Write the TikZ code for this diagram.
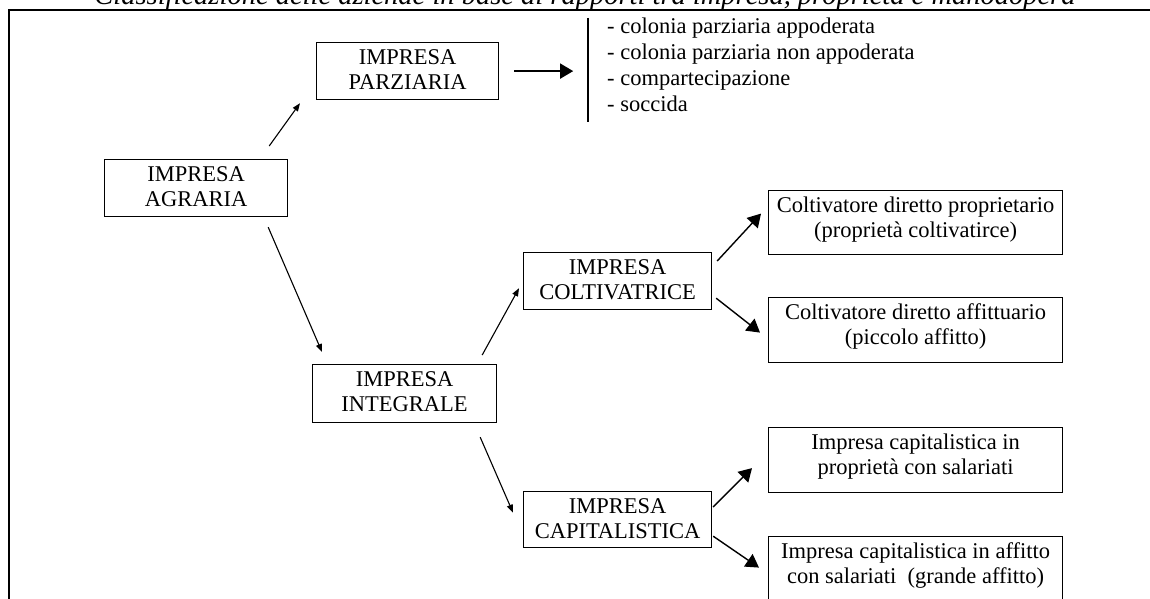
\documentclass[tikz,border=0pt]{standalone}
\usepackage{fontspec}
\setmainfont{Liberation Serif}
\usetikzlibrary{arrows.meta,calc}
\begin{document}
\begin{tikzpicture}[x=1pt,y=-1pt,
  box/.style={draw, line width=1.2pt, inner xsep=0pt, inner ysep=3pt,
    align=center, anchor=north west, text height=44pt,
    font=\fontsize{22.5}{25.3}\selectfont},
  ibox/.style={box, text depth=7pt},
  wbox/.style={box, minimum width=294pt, text depth=15pt},
  thinarrow/.style={line width=1.1pt, -{Triangle[length=8pt,width=6pt]}},
  bigarrow/.style={line width=1.4pt, -{Triangle[length=13pt,width=15pt]}}]
\useasboundingbox (0,0) rectangle (1150,599);
% frame
\draw[line width=2.4pt] (8.7,640) -- (8.7,10) -- (1170,10);
% title
\node[anchor=base, inner sep=0pt, font=\fontsize{28.5}{30}\selectfont\itshape] (title) at (585,4.5)
  {Classificazione delle aziende in base ai rapporti tra impresa, proprietà e manodopera};
% boxes
\node[ibox, minimum width=182pt] (parz) at (316,42) {IMPRESA\\PARZIARIA};
\node[ibox, minimum width=183pt] (agr) at (104,159) {IMPRESA\\AGRARIA};
\node[ibox, minimum width=184pt, text depth=8pt] (int) at (312,364) {IMPRESA\\INTEGRALE};
\node[ibox, minimum width=188pt] (colt) at (523,252) {IMPRESA\\COLTIVATRICE};
\node[ibox, minimum width=188pt, text depth=6pt] (cap) at (523,491) {IMPRESA\\CAPITALISTICA};
\node[wbox, text depth=14pt] (b1) at (768,190) {Coltivatore diretto proprietario\\(proprietà coltivatirce)};
\node[wbox] (b2) at (768,297) {Coltivatore diretto affittuario\\(piccolo affitto)};
\node[wbox] (b3) at (768,427) {Impresa capitalistica in\\proprietà con salariati};
\node[wbox] (b4) at (768,536) {Impresa capitalistica in affitto\\con salariati~ (grande affitto)};
% list
\node[anchor=north west, inner sep=0pt, align=left, text height=97pt, text depth=5pt,
  font=\fontsize{22.5}{26}\selectfont] (lst) at (607,14.5)
  {- colonia parziaria appoderata\\- colonia parziaria non appoderata\\- compartecipazione\\- soccida};
\coordinate (bart) at ($(lst.north west)+(-19.3,3.5)$);
\coordinate (barb) at ($(lst.north west)+(-19.3,107.5)$);
\draw[line width=1.6pt] (bart) -- (barb);
% connectors
\draw[thinarrow] ($(agr.north east)+(-19,-13)$) -- ($(parz.south west)+(-16,3)$);
\draw[thinarrow] ($(agr.south east)+(-20,10)$) -- ($(int.north west)+(10,-12)$);
\draw[thinarrow] ($(int.north east)+(-15,-9)$) -- ($(colt.south west)+(-4,-22)$);
\draw[thinarrow] ($(int.south east)+(-17,14)$) -- ($(cap.west)+(-10,-7)$);
\draw[bigarrow] ($(parz.east)+(15,0)$) -- ($(parz.east)+(74,0)$);
\draw[bigarrow] ($(colt.north east)+(5,9)$) -- ($(b1.west)+(-7,-9)$);
\draw[bigarrow] ($(colt.south east)+(4,-12)$) -- ($(b2.west)+(-8,2.5)$);
\draw[bigarrow] ($(cap.north east)+(1,16)$) -- ($(b3.west)+(-16,8)$);
\draw[bigarrow] ($(cap.south east)+(1,-12)$) -- ($(b4.west)+(-9,-1.5)$);
\end{tikzpicture}
\end{document}
